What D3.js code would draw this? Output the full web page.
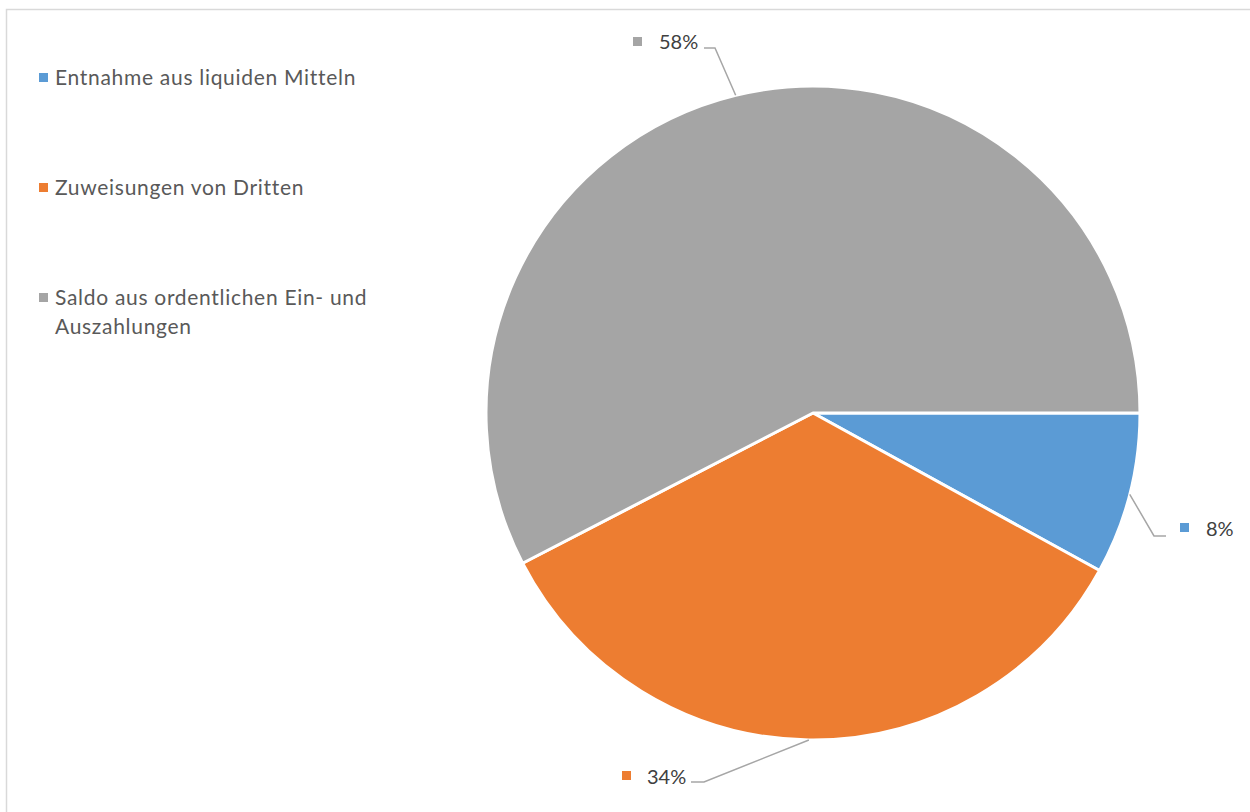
<!DOCTYPE html>
<html>
<head>
<meta charset="utf-8">
<script src="https://d3js.org/d3.v7.min.js"></script>
<style>
  body { margin: 0; background: #fff; }
  svg { display: block; }
  text { font-family: Lato, "Open Sans", sans-serif; }
</style>
</head>
<body>
<svg id="chart" width="1250" height="812"></svg>
<script>
// Data
const categories = ['Entnahme aus liquiden Mitteln', 'Zuweisungen von Dritten', 'Saldo aus ordentlichen Ein- und Auszahlungen'];
const values = [8.0, 34.4, 57.6];
const labels = ['8%', '34%', '58%'];
const colors = ['#5b9bd5', '#ed7d31', '#a5a5a5'];

// legend lines (the third entry wraps)
const legendLines = [['Entnahme aus liquiden Mitteln'], ['Zuweisungen von Dritten'], ['Saldo aus ordentlichen Ein- und', 'Auszahlungen']];

const width = 1250, height = 812;
const cx = 813, cy = 413, radius = 327;

const svg = d3.select('#chart');

// chart frame
svg.append('rect')
    .attr('x', 6.5).attr('y', 9.5)
    .attr('width', 1260).attr('height', 820)
    .attr('fill', 'none')
    .attr('stroke', '#d9d9d9')
    .attr('stroke-width', 1.5);

// Pie, starting at 3 o'clock, clockwise
const pie = d3.pie().sort(null).value(d => d)
    .startAngle(Math.PI / 2).endAngle(Math.PI / 2 + 2 * Math.PI);
const arcs = pie(values);
const arc = d3.arc().innerRadius(0).outerRadius(radius);

const g = svg.append('g').attr('transform', `translate(${cx},${cy})`);
g.selectAll('path.slice')
    .data(arcs)
    .enter().append('path')
    .attr('class', 'slice')
    .attr('d', arc)
    .attr('fill', (d, i) => colors[i])
    .attr('stroke', '#fff')
    .attr('stroke-width', 3)
    .attr('stroke-linejoin', 'round');

// Data labels with leader lines (elbow and label offsets per slice)
const labelLayout = [
    { elbow: [1154, 536], end: [1166, 536], marker: [1180, 523], text: [1206, 536] },
    { elbow: [704, 782], end: [691, 782], marker: [622, 771], text: [647, 784] },
    { elbow: [715, 48], end: [704, 48], marker: [633, 37], text: [659, 49] }
];

arcs.forEach((d, i) => {
    const mid = (d.startAngle + d.endAngle) / 2;
    const p0 = [cx + radius * Math.sin(mid), cy - radius * Math.cos(mid)];
    const L = labelLayout[i];
    svg.append('polyline')
        .attr('points', [p0, L.elbow, L.end].map(p => p.join(',')).join(' '))
        .attr('fill', 'none')
        .attr('stroke', '#a6a6a6')
        .attr('stroke-width', 1.5);
    svg.append('rect')
        .attr('x', L.marker[0]).attr('y', L.marker[1])
        .attr('width', 9).attr('height', 9)
        .attr('fill', colors[i]);
    svg.append('text')
        .attr('x', L.text[0]).attr('y', L.text[1])
        .attr('font-size', 20)
        .attr('fill', '#404040')
        .text(labels[i]);
});

// Legend
const legend = svg.append('g').attr('class', 'legend');
const item = legend.selectAll('g')
    .data(categories)
    .enter().append('g')
    .attr('transform', (d, i) => `translate(39, ${73 + i * 110})`);

item.append('rect')
    .attr('width', 9).attr('height', 9)
    .attr('fill', (d, i) => colors[i]);

item.each(function(d, i) {
    const t = d3.select(this).append('text')
        .attr('x', 16).attr('y', 12)
        .attr('font-size', 21)
        .attr('letter-spacing', 0.7)
        .attr('fill', '#595959');
    legendLines[i].forEach((line, j) => {
        t.append('tspan').attr('x', 16).attr('dy', j === 0 ? 0 : 29).text(line);
    });
});
</script>
</body>
</html>
